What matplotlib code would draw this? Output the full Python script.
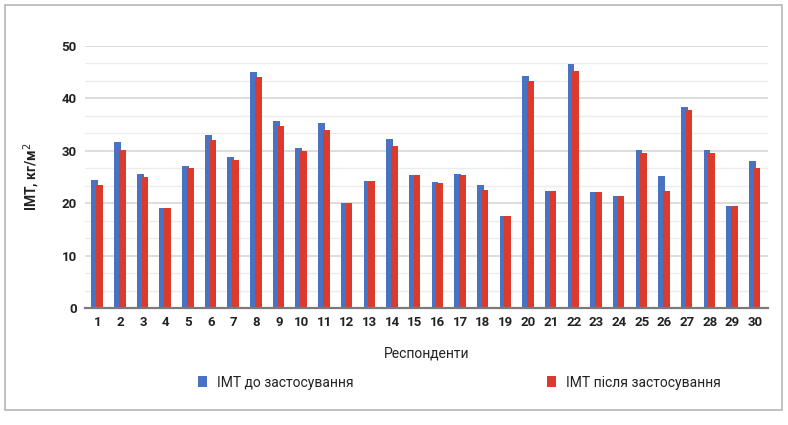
"""BMI before/after per respondent, grouped bars."""
import matplotlib

matplotlib.use("Agg")
import matplotlib.pyplot as plt
import numpy as np
from matplotlib.patches import Rectangle

respondents = [str(i) for i in range(1, 31)]
bmi_before = [24.5, 31.7, 25.5, 19.1, 27.1, 33.0, 28.8, 45.0, 35.6, 30.5,
              35.3, 20.0, 24.3, 32.2, 25.4, 24.0, 25.6, 23.4, 17.5, 44.3,
              22.4, 46.5, 22.2, 21.3, 30.1, 25.2, 38.3, 30.1, 19.5, 28.0]
bmi_after = [23.5, 30.2, 25.0, 19.1, 26.8, 32.0, 28.3, 44.0, 34.8, 30.0,
             34.0, 20.0, 24.3, 31.0, 25.4, 23.8, 25.3, 22.6, 17.5, 43.3,
             22.4, 45.3, 22.2, 21.3, 29.6, 22.4, 37.8, 29.6, 19.5, 26.8]

plt.rcParams["font.family"] = ["Roboto", "DejaVu Sans"]

BLUE = "#4a72c2"
RED = "#dd3a2e"
TXT = "#222222"

fig = plt.figure(figsize=(7.88, 4.25), dpi=100)
fig.patch.set_facecolor("white")
fig.add_artist(Rectangle((0.006, 0.035), 0.987, 0.953, transform=fig.transFigure,
                         fill=False, edgecolor="#b5b5b5", linewidth=1.2))

ax = fig.add_axes([0.108, 0.275, 0.866, 0.617])
x = np.arange(1, len(respondents) + 1)
w = 0.30
ax.bar(x - 0.12, bmi_before, width=w, color=BLUE, label="ІМТ до застосування", zorder=3)
ax.bar(x + 0.09, bmi_after, width=w, color=RED, label="ІМТ після застосування", zorder=4)

ax.set_xlim(0.45, 30.55)
ax.set_ylim(0, 50)
ax.set_yticks(range(0, 51, 10))
ax.set_yticks(np.arange(0, 50.1, 10 / 3), minor=True)
ax.set_xticks(x)
ax.set_xticklabels(respondents)
ax.grid(axis="y", which="major", color="#dadada", linewidth=1.3, zorder=0)
ax.grid(axis="y", which="minor", color="#ececec", linewidth=1.0, zorder=0)
ax.tick_params(axis="both", which="both", length=0, labelsize=9.5, pad=6, labelcolor=TXT)
for lab in ax.get_xticklabels() + ax.get_yticklabels():
    lab.set_fontweight("bold")
for s in ("top", "right", "left"):
    ax.spines[s].set_visible(False)
ax.spines["bottom"].set_color("#7a7a7a")
ax.spines["bottom"].set_linewidth(1.6)
ax.spines["bottom"].set_zorder(5)

ax.set_xlabel("Респонденти", fontsize=10, labelpad=12, color=TXT)
ax.set_ylabel("ІМТ, кг/м$^2$", fontsize=10, fontweight="bold", labelpad=14, color=TXT)

h, l = ax.get_legend_handles_labels()
for hh, ll, xa in zip(h, l, (0.235, 0.678)):
    fig.legend([hh], [ll], loc="center left", bbox_to_anchor=(xa, 0.10), frameon=False,
               fontsize=10, handlelength=0.7, handleheight=0.9, handletextpad=0.7,
               labelcolor=TXT)

fig.savefig("out.png", dpi=100)
